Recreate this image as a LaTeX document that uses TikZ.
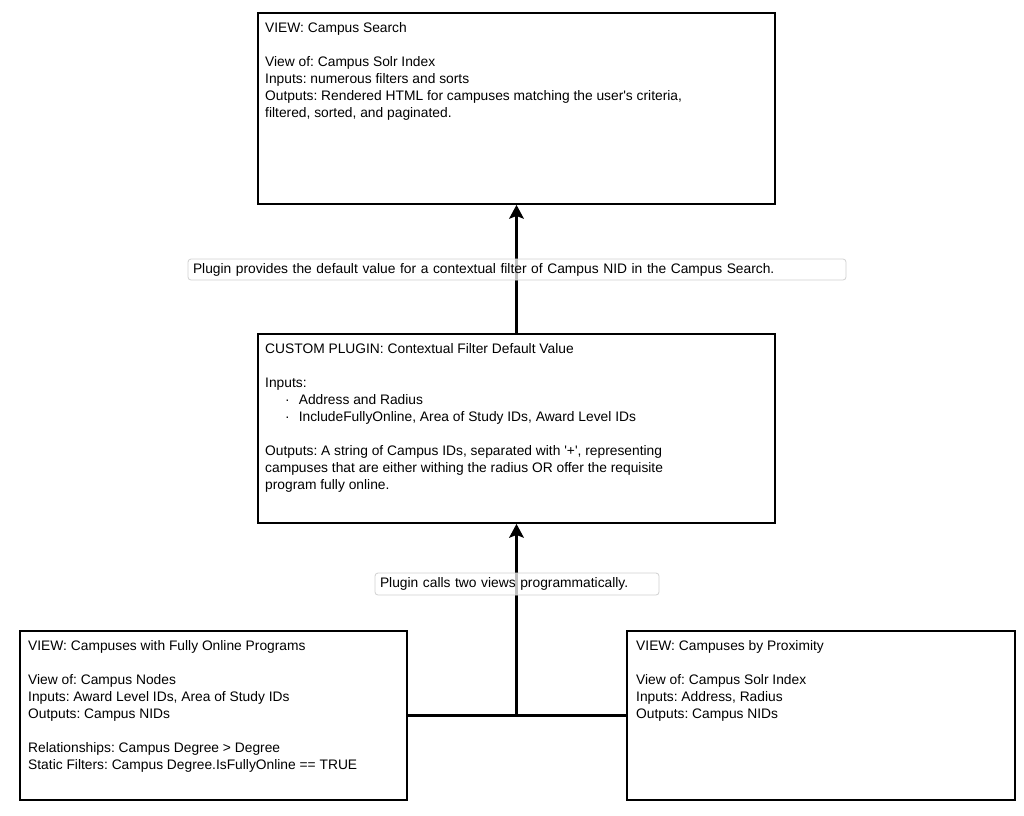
\documentclass[tikz,border=0pt]{standalone}
\usepackage{fontspec}
\setmainfont{Liberation Sans}
\frenchspacing
\usetikzlibrary{arrows.meta}
\newcommand{\sq}{\textquotesingle}
\begin{document}
\begin{tikzpicture}[x=1pt,y=-1pt,
  box/.style={draw=black, line width=1.8pt, fill=white, rectangle, inner sep=0pt},
  txt/.style={anchor=north west, inner sep=0pt, align=left, font=\fontsize{13.8}{17}\selectfont},
  lbl/.style={draw=black!18, line width=0.8pt, rounded corners=3pt, fill=white, fill opacity=0.75, text opacity=1, inner sep=0pt, font=\fontsize{13.8}{15}\selectfont},
  arr/.style={line width=3pt, -{Stealth[length=14pt,width=15pt,inset=3pt,line width=1pt]}},
  conn/.style={line width=3pt}]
\useasboundingbox (0,0) rectangle (1024,815);
\node[box, minimum width=517pt, minimum height=191pt] (top) at (516.5,108.5) {};
\node[box, minimum width=517pt, minimum height=189pt] (mid) at (516.5,428.5) {};
\node[box, minimum width=387pt, minimum height=169pt] (left) at (213.5,715.5) {};
\node[box, minimum width=388pt, minimum height=169pt] (right) at (821,715.5) {};
\node[txt] (toptxt) at (265,22) {VIEW: Campus Search\\[17pt]View of: Campus Solr Index\\Inputs: numerous filters and sorts\\Outputs: Rendered HTML for campuses matching the user\sq s criteria,\\filtered, sorted, and paginated.};
\node[txt] (midtxt) at (265,343) {CUSTOM PLUGIN: Contextual Filter Default Value\\[17pt]Inputs:\\\hspace*{20pt}·\hspace{9pt}Address and Radius\\\hspace*{20pt}·\hspace{9pt}IncludeFullyOnline, Area of Study IDs, Award Level IDs\\[17pt]Outputs: A string of Campus IDs, separated with \sq+\sq, representing\\campuses that are either withing the radius OR offer the requisite\\program fully online.};
\node[txt] (lefttxt) at (28,640) {VIEW: Campuses with Fully Online Programs\\[17pt]View of: Campus Nodes\\Inputs: Award Level IDs, Area of Study IDs\\Outputs: Campus NIDs\\[17pt]Relationships: Campus Degree > Degree\\Static Filters: Campus Degree.IsFullyOnline == TRUE};
\node[txt] (righttxt) at (636,640) {VIEW: Campuses by Proximity\\[17pt]View of: Campus Solr Index\\Inputs: Address, Radius\\Outputs: Campus NIDs};
\coordinate (junc) at (516.5,715.5);
\draw[conn] (left.east) -- (right.west);
\draw[arr] (junc) -- (mid.south);
\draw[arr] (mid.north) -- (top.south);
\node[lbl, minimum width=658pt, minimum height=21pt, text width=648pt, align=left] (lab1) at (517,269.5) {Plugin provides the default value for a contextual filter of Campus NID in the Campus Search.};
\node[lbl, minimum width=284pt, minimum height=22pt, text width=274pt, align=left] (lab2) at (517,584) {Plugin calls two views programmatically.};
\end{tikzpicture}
\end{document}
